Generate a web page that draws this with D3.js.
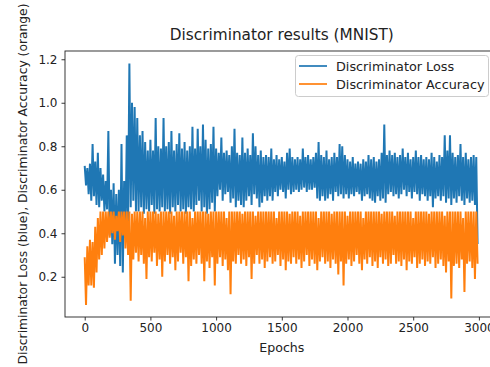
<!DOCTYPE html>
<html>
<head>
<meta charset="utf-8">
<script src="https://cdn.jsdelivr.net/npm/d3@7"></script>
<style>
  html, body { margin: 0; padding: 0; background: #fff; }
  svg { display: block; font-family: "DejaVu Sans", sans-serif; }
</style>
</head>
<body>
<div id="chart"></div>
<script>
// epochs are read in 20-epoch bins: peak at the bin start, trough half way through
const binSize = 20;

// Discriminator loss (blue), upper edge per bin
const lossPeaks = [
  0.71, 0.70, 0.72, 0.81, 0.73, 0.77, 0.70, 0.67, 0.64, 0.87,
  0.60, 0.63, 0.58, 0.60, 0.81, 0.64, 0.85, 1.18, 1.00, 0.98,
  0.93, 0.85, 0.87, 0.82, 0.78, 0.83, 0.78, 0.93, 0.80, 0.79,
  0.93, 0.80, 0.82, 0.87, 0.78, 0.81, 0.86, 0.79, 0.82, 0.78,
  0.80, 0.89, 0.79, 0.88, 0.80, 0.90, 0.83, 0.79, 0.81, 0.89,
  0.79, 0.77, 0.84, 0.77, 0.78, 0.76, 0.80, 0.88, 0.77, 0.76,
  0.84, 0.77, 0.79, 0.76, 0.86, 0.80, 0.76, 0.78, 0.75, 0.76,
  0.75, 0.79, 0.74, 0.76, 0.74, 0.75, 0.73, 0.77, 0.79, 0.75,
  0.74, 0.75, 0.74, 0.79, 0.75, 0.76, 0.74, 0.75, 0.77, 0.82,
  0.76, 0.75, 0.78, 0.74, 0.75, 0.77, 0.75, 0.81, 0.80, 0.76,
  0.74, 0.73, 0.75, 0.72, 0.73, 0.72, 0.74, 0.73, 0.76, 0.74,
  0.75, 0.73, 0.74, 0.77, 0.90, 0.76, 0.78, 0.76, 0.77, 0.75,
  0.76, 0.79, 0.75, 0.77, 0.74, 0.75, 0.78, 0.75, 0.76, 0.74,
  0.75, 0.74, 0.77, 0.75, 0.73, 0.76, 0.75, 0.85, 0.78, 0.85,
  0.77, 0.75, 0.76, 0.81, 0.75, 0.77, 0.74, 0.75, 0.76, 0.75
];
// Discriminator loss (blue), lower edge per bin
const lossTroughs = [
  0.62, 0.58, 0.55, 0.57, 0.53, 0.52, 0.55, 0.50, 0.51, 0.39,
  0.35, 0.26, 0.30, 0.25, 0.22, 0.38, 0.45, 0.52, 0.55, 0.50,
  0.50, 0.52, 0.49, 0.51, 0.50, 0.53, 0.49, 0.51, 0.50, 0.52,
  0.50, 0.51, 0.49, 0.52, 0.50, 0.53, 0.50, 0.51, 0.49, 0.52,
  0.51, 0.50, 0.53, 0.55, 0.50, 0.52, 0.49, 0.51, 0.54, 0.50,
  0.57, 0.60, 0.55, 0.58, 0.59, 0.54, 0.56, 0.52, 0.55, 0.53,
  0.52, 0.55, 0.57, 0.53, 0.58, 0.56, 0.52, 0.54, 0.57, 0.55,
  0.57, 0.55, 0.59, 0.57, 0.60, 0.59, 0.56, 0.60, 0.58, 0.59,
  0.60, 0.59, 0.60, 0.61, 0.59, 0.60, 0.60, 0.61, 0.56, 0.55,
  0.57, 0.55, 0.56, 0.58, 0.55, 0.59, 0.57, 0.58, 0.56, 0.58,
  0.56, 0.58, 0.57, 0.59, 0.58, 0.55, 0.57, 0.58, 0.56, 0.55,
  0.54, 0.57, 0.55, 0.56, 0.54, 0.58, 0.59, 0.57, 0.58, 0.56,
  0.58, 0.60, 0.57, 0.59, 0.56, 0.59, 0.58, 0.55, 0.58, 0.57,
  0.55, 0.57, 0.52, 0.56, 0.57, 0.55, 0.57, 0.54, 0.56, 0.53,
  0.56, 0.54, 0.57, 0.55, 0.53, 0.56, 0.54, 0.55, 0.53, 0.35
];
// Discriminator accuracy (orange), upper edge per bin
const accPeaks = [
  0.29, 0.34, 0.37, 0.36, 0.43, 0.47, 0.50, 0.50, 0.50, 0.50,
  0.50, 0.50, 0.48, 0.50, 0.50, 0.50, 0.50, 0.50, 0.49, 0.50,
  0.50, 0.50, 0.50, 0.47, 0.50, 0.50, 0.50, 0.50, 0.49, 0.50,
  0.50, 0.50, 0.50, 0.50, 0.48, 0.50, 0.50, 0.50, 0.50, 0.50,
  0.50, 0.47, 0.50, 0.50, 0.50, 0.50, 0.50, 0.49, 0.50, 0.50,
  0.50, 0.50, 0.50, 0.50, 0.47, 0.50, 0.50, 0.50, 0.50, 0.50,
  0.49, 0.50, 0.50, 0.50, 0.50, 0.48, 0.50, 0.50, 0.50, 0.50,
  0.50, 0.50, 0.50, 0.47, 0.50, 0.50, 0.50, 0.50, 0.49, 0.50,
  0.50, 0.50, 0.48, 0.50, 0.50, 0.50, 0.50, 0.50, 0.50, 0.47,
  0.50, 0.50, 0.50, 0.50, 0.49, 0.50, 0.50, 0.50, 0.50, 0.50,
  0.48, 0.50, 0.50, 0.50, 0.50, 0.50, 0.47, 0.50, 0.50, 0.50,
  0.50, 0.50, 0.50, 0.49, 0.50, 0.50, 0.50, 0.50, 0.48, 0.50,
  0.50, 0.50, 0.50, 0.50, 0.50, 0.47, 0.50, 0.50, 0.50, 0.50,
  0.50, 0.49, 0.50, 0.50, 0.50, 0.50, 0.50, 0.48, 0.50, 0.50,
  0.50, 0.50, 0.50, 0.50, 0.47, 0.50, 0.50, 0.50, 0.50, 0.50
];
// Discriminator accuracy (orange), lower edge per bin
const accTroughs = [
  0.07, 0.16, 0.16, 0.15, 0.22, 0.28, 0.30, 0.33, 0.36, 0.38,
  0.40, 0.37, 0.41, 0.36, 0.39, 0.33, 0.30, 0.09, 0.28, 0.31,
  0.27, 0.30, 0.26, 0.19, 0.29, 0.27, 0.31, 0.25, 0.28, 0.20,
  0.27, 0.30, 0.26, 0.29, 0.23, 0.27, 0.31, 0.26, 0.29, 0.18,
  0.25, 0.28, 0.26, 0.30, 0.26, 0.18, 0.27, 0.24, 0.29, 0.16,
  0.26, 0.29, 0.25, 0.28, 0.23, 0.12, 0.27, 0.26, 0.30, 0.26,
  0.28, 0.25, 0.29, 0.19, 0.26, 0.30, 0.26, 0.28, 0.24, 0.27,
  0.29, 0.26, 0.27, 0.30, 0.25, 0.28, 0.23, 0.27, 0.26, 0.29,
  0.26, 0.28, 0.24, 0.27, 0.30, 0.25, 0.28, 0.26, 0.23, 0.27,
  0.29, 0.26, 0.27, 0.24, 0.28, 0.26, 0.21, 0.27, 0.16, 0.26,
  0.28, 0.25, 0.27, 0.30, 0.26, 0.23, 0.28, 0.26, 0.29, 0.25,
  0.27, 0.24, 0.29, 0.26, 0.28, 0.25, 0.26, 0.30, 0.26, 0.27,
  0.25, 0.28, 0.23, 0.27, 0.26, 0.29, 0.24, 0.26, 0.28, 0.25,
  0.27, 0.26, 0.29, 0.24, 0.26, 0.28, 0.25, 0.22, 0.27, 0.10,
  0.25, 0.26, 0.24, 0.28, 0.13, 0.26, 0.27, 0.24, 0.19, 0.26
];

const xTicks = [0, 500, 1000, 1500, 2000, 2500, 3000];
const yTicks = [0.2, 0.4, 0.6, 0.8, 1.0, 1.2];
const seriesNames = ["Discriminator Loss", "Discriminator Accuracy"];
const seriesColors = ["#1f77b4", "#ff7f0e"];

function toPoints(peaks, troughs) {
  const pts = [];
  peaks.forEach((p, i) => {
    pts.push({ epoch: i * binSize, value: p });
    pts.push({ epoch: i * binSize + binSize / 2, value: troughs[i] });
  });
  return pts;
}
const lossData = toPoints(lossPeaks, lossTroughs);
const accData = toPoints(accPeaks, accTroughs);

const W = 490, H = 367;
const plot = { left: 65, top: 51, right: 498.6, bottom: 317 };

const svg = d3.select("#chart").append("svg")
  .attr("width", W)
  .attr("height", H);

const x = d3.scaleLinear().domain([-150, 3150]).range([plot.left, plot.right]);
const y = d3.scaleLinear().domain([0.015, 1.238]).range([plot.bottom, plot.top]);

svg.append("clipPath").attr("id", "clip")
  .append("rect")
  .attr("x", plot.left).attr("y", plot.top)
  .attr("width", plot.right - plot.left).attr("height", plot.bottom - plot.top);

const line = d3.line()
  .x(d => x(d.epoch))
  .y(d => y(d.value));

const lines = svg.append("g").attr("clip-path", "url(#clip)");
[lossData, accData].forEach((data, i) => {
  lines.append("path")
    .attr("d", line(data))
    .attr("fill", "none")
    .attr("stroke", seriesColors[i])
    .attr("stroke-width", 2)
    .attr("stroke-linejoin", "bevel");
});

// axes
const xAxis = svg.append("g")
  .attr("transform", `translate(0,${plot.bottom})`)
  .call(d3.axisBottom(x).tickValues(xTicks).tickSize(3.5).tickPadding(3).tickFormat(d3.format("d")));
const yAxis = svg.append("g")
  .attr("transform", `translate(${plot.left},0)`)
  .call(d3.axisLeft(y).tickValues(yTicks).tickSize(3.5).tickPadding(4).tickFormat(d3.format(".1f")));
[xAxis, yAxis].forEach(g => {
  g.select(".domain").remove();
  g.selectAll(".tick line").attr("stroke", "#222").attr("stroke-width", 0.9);
  g.selectAll(".tick text")
    .attr("fill", "#222")
    .style("font-size", "12px")
    .style("font-family", "DejaVu Sans");
});

// frame (right spine falls outside the picture)
svg.append("rect")
  .attr("x", plot.left).attr("y", plot.top)
  .attr("width", plot.right - plot.left).attr("height", plot.bottom - plot.top)
  .attr("fill", "none")
  .attr("stroke", "#222")
  .attr("stroke-width", 0.9);

// title and labels
svg.append("text")
  .attr("x", (plot.left + plot.right) / 2)
  .attr("y", 40)
  .attr("text-anchor", "middle")
  .attr("fill", "#222")
  .style("font-size", "15.3px")
  .text("Discriminator results (MNIST)");

svg.append("text")
  .attr("x", (plot.left + plot.right) / 2)
  .attr("y", 352)
  .attr("text-anchor", "middle")
  .attr("fill", "#222")
  .style("font-size", "12.6px")
  .text("Epochs");

svg.append("text")
  .attr("transform", `translate(27,${(plot.top + plot.bottom) / 2}) rotate(-90)`)
  .attr("text-anchor", "middle")
  .attr("fill", "#222")
  .style("font-size", "12.3px")
  .text("Discriminator Loss (blue), Discriminator Accuracy (orange)");

// legend
const legend = svg.append("g");
legend.append("rect")
  .attr("x", 295.5).attr("y", 55.5)
  .attr("width", 193).attr("height", 41)
  .attr("rx", 3)
  .attr("fill", "#fff").attr("fill-opacity", 0.8)
  .attr("stroke", "#ccc");
seriesNames.forEach((name, i) => {
  const ly = 66 + i * 18;
  legend.append("line")
    .attr("x1", 299).attr("x2", 327)
    .attr("y1", ly).attr("y2", ly)
    .attr("stroke", seriesColors[i])
    .attr("stroke-width", 1.7);
  legend.append("text")
    .attr("x", 336).attr("y", ly + 4.5)
    .attr("fill", "#222")
    .style("font-size", "12.8px")
    .text(name);
});
</script>
</body>
</html>
